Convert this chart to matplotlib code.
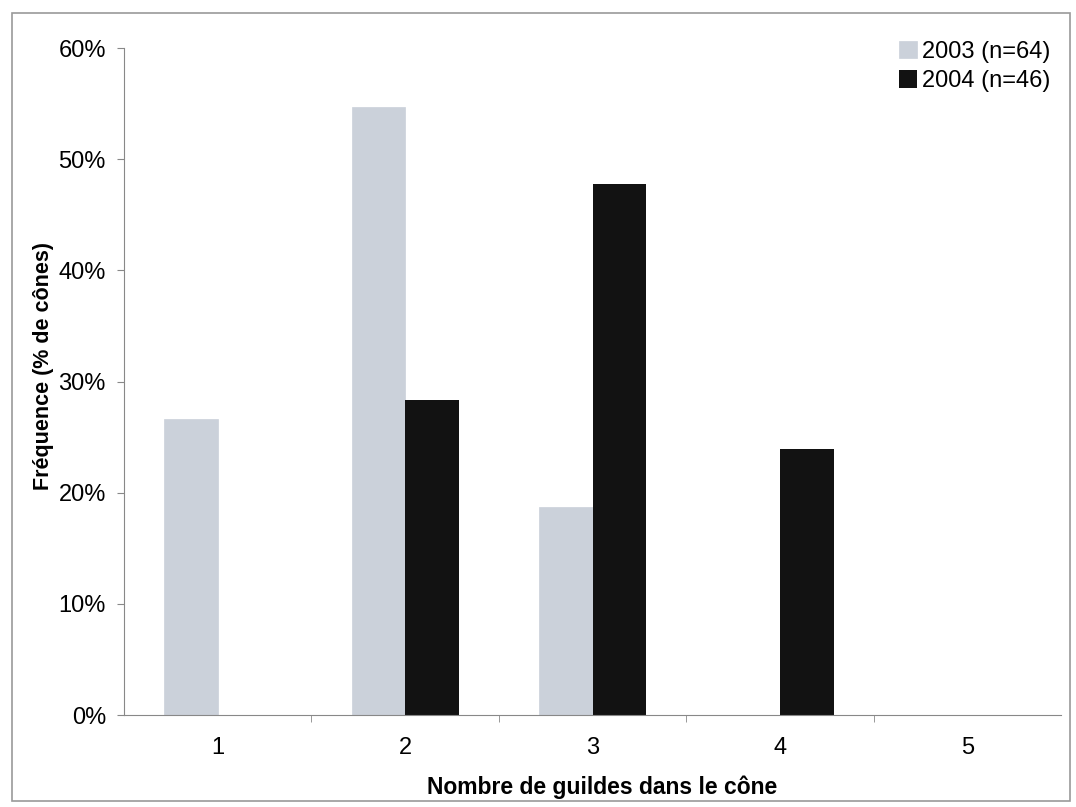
import numpy as np
import matplotlib.pyplot as plt
from matplotlib.patches import Rectangle
from matplotlib.ticker import FuncFormatter

plt.rcParams["font.family"] = ["Liberation Sans", "DejaVu Sans"]

categories = ["1", "2", "3", "4", "5"]
freq_2003 = [26.6, 54.7, 18.75, 0.0, 0.0]
freq_2004 = [0.0, 28.3, 47.8, 23.9, 0.0]
labels = ["2003 (n=64)", "2004 (n=46)"]
colors = ["#cbd1da", "#121212"]

fig = plt.figure(figsize=(10.76, 8.07), dpi=100)
ax = fig.add_axes([0.1152, 0.114, 0.871, 0.8265])

# light frame around the whole chart area
fig.patches.append(
    Rectangle((0.011, 0.008), 0.983, 0.976, transform=fig.transFigure,
              fill=False, edgecolor="#9a9a9a", linewidth=1.2)
)

x = np.arange(len(categories))
width = 0.2857
ax.bar(x - width / 2, freq_2003, width, color=colors[0], label=labels[0],
       edgecolor=colors[0], linewidth=0.5)
ax.bar(x + width / 2, freq_2004, width, color=colors[1], label=labels[1])

ax.set_xlim(-0.5, len(categories) - 0.5)
ax.set_ylim(0, 60)
ax.set_yticks(np.arange(0, 61, 10))
ax.yaxis.set_major_formatter(FuncFormatter(lambda v, _: f"{v:.0f}%"))
ax.set_xticks(x)
ax.set_xticklabels(categories)
ax.set_xticks(np.arange(0.5, len(categories) - 0.5, 1.0), minor=True)
ax.tick_params(axis="x", which="major", length=0, pad=16, labelsize=17)
ax.tick_params(axis="x", which="minor", length=5, color="#888888")
ax.tick_params(axis="y", length=5, color="#888888", labelsize=17, pad=8)

for side in ("top", "right"):
    ax.spines[side].set_visible(False)
for side in ("left", "bottom"):
    ax.spines[side].set_color("#888888")

ax.set_xlabel("Nombre de guildes dans le cône", fontsize=16.5, fontweight="bold")
ax.set_ylabel("Fréquence (% de cônes)", fontsize=15.5, fontweight="bold")
ax.xaxis.set_label_coords(0.51, -0.09)
ax.yaxis.set_label_coords(-0.075, 0.523)

ax.legend(loc="upper right", bbox_to_anchor=(1.011, 1.043), frameon=False,
          fontsize=17, handlelength=0.75, handleheight=0.75, handletextpad=0.2,
          labelspacing=0.33)

fig.savefig("out.png", dpi=100)
